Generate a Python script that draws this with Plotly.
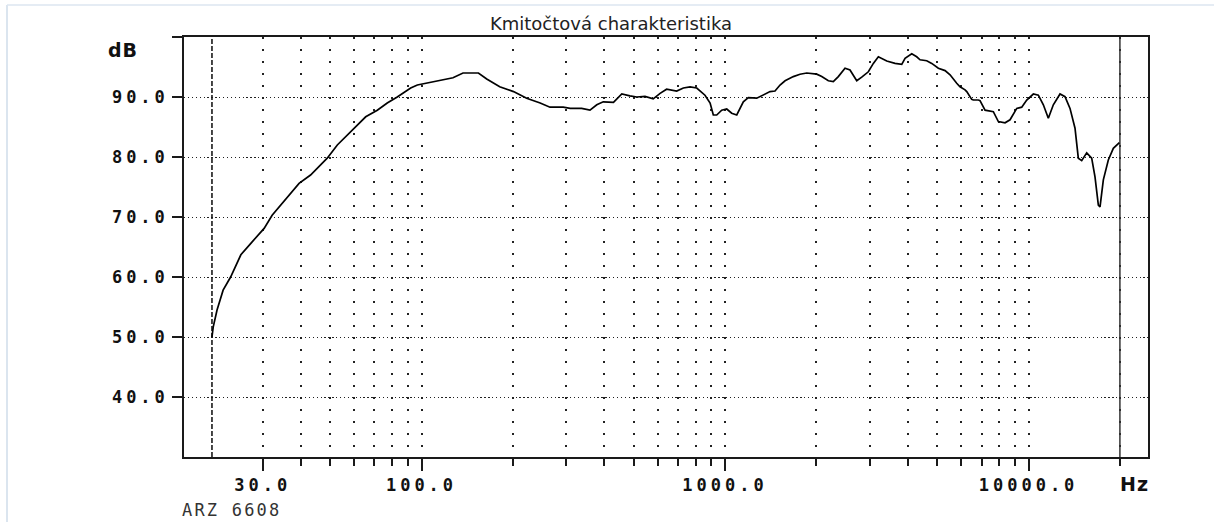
import math
import plotly.graph_objects as go

# ---- data ----
freq_hz = [20.4, 20.6, 21.2, 22.2, 23.5, 25.4, 27.4, 30.3, 32.2, 35.2, 39.5, 43.1, 48.9, 52.8,
           58.4, 65.5, 71.5, 77.1, 83.2, 92.1, 96.9, 104, 118, 127, 137, 154, 164, 181, 201,
           222, 246, 265, 293, 309, 337, 359, 378, 397, 429, 457, 486, 512, 545, 580, 611,
           642, 693, 729, 767, 807, 859, 893, 915, 939, 975, 1013, 1052, 1093, 1149, 1193,
           1272, 1337, 1407, 1461, 1518, 1577, 1679, 1766, 1859, 2005, 2083, 2190, 2274,
           2362, 2485, 2581, 2716, 2821, 2966, 3081, 3200, 3411, 3632, 3822, 3919, 4123,
           4281, 4390, 4619, 4798, 5045, 5308, 5513, 5799, 5946, 6177, 6257, 6498, 6578,
           6833, 6921, 7189, 7656, 7953, 8368, 8690, 9144, 9497, 9865, 10371, 10772, 11189,
           11620, 12069, 12697, 13188, 13697, 14226, 14588, 14968, 15546, 16145, 16556,
           16982, 17200, 17637, 18316, 19023, 19920]
level_db = [50.0, 51.7, 54.5, 57.8, 60.0, 63.7, 65.6, 68.1, 70.3, 72.6, 75.6, 77.0, 79.8, 82.0,
            84.2, 86.7, 87.8, 89.0, 90.0, 91.5, 92.0, 92.3, 92.8, 93.2, 94.0, 94.0, 93.0, 91.7, 90.9,
            89.8, 89.0, 88.3, 88.3, 88.1, 88.1, 87.8, 88.7, 89.2, 89.1, 90.5, 90.2, 90.0, 90.1, 89.7, 90.6,
            91.3, 91.0, 91.5, 91.7, 91.5, 90.3, 89.0, 87.0, 87.0, 87.8, 88.0, 87.3, 87.0, 89.2, 89.9,
            89.8, 90.3, 90.9, 91.0, 92.0, 92.7, 93.4, 93.8, 94.0, 93.8, 93.4, 92.7, 92.55,
            93.4, 94.8, 94.5, 92.7, 93.3, 94.2, 95.6, 96.7, 96.0, 95.6, 95.45, 96.45, 97.2,
            96.7, 96.2, 96.05, 95.6, 94.8, 94.4, 93.7, 92.3, 91.7, 91.2, 90.9, 89.6, 89.5,
            89.5, 89.4, 87.8, 87.55, 85.9, 85.7, 86.2, 88.1, 88.3, 89.5, 90.5, 90.3, 88.7,
            86.45, 88.7, 90.5, 90.05, 88.1, 84.8, 79.8, 79.4, 80.7, 79.8, 76.7,
            72.0, 71.7, 76.2, 79.5, 81.45, 82.4]

limit_low_hz = 20.4
limit_high_hz = 20000
x_range_hz = [16.5, 24750]
y_range_db = [30, 100]

x_major_vals = [30, 100, 1000, 10000]
x_major_labels = ["30.0", "100.0", "1000.0", "10000.0"]
x_minor_vals = [40, 50, 60, 70, 80, 90, 200, 300, 400, 500, 600, 700, 800, 900,
                2000, 3000, 4000, 5000, 6000, 7000, 8000, 9000, 20000]
y_tick_vals = [40, 50, 60, 70, 80, 90, 100]
y_tick_labels = ["40.0", "50.0", "60.0", "70.0", "80.0", "90.0", ""]

title_text = "Kmitočtová charakteristika"
y_unit = "dB"
x_unit = "Hz"
footer_text = "ARZ 6608"


def spaced(t, px):
    return f'<span style="letter-spacing:{px}px">{t}</span>' if t else t


W, H = 1214, 522
L, R, T, B = 184, 66, 37, 65
pw, ph = W - L - R, H - T - B


def px_x(p):
    return (p - L) / pw


def px_y(p):
    return (H - B - p) / ph


tick_font = dict(family="DejaVu Sans Mono", size=17, color="#111", weight="bold")
ink = "#1a1a1a"

fig = go.Figure()
fig.add_trace(go.Scatter(x=[limit_low_hz, limit_low_hz], y=y_range_db, mode="lines",
                         line=dict(color=ink, width=1.6, dash="5px,2px"), hoverinfo="skip"))
fig.add_trace(go.Scatter(x=[limit_high_hz, limit_high_hz], y=y_range_db, mode="lines",
                         line=dict(color="#333", width=1.5), hoverinfo="skip"))
fig.add_trace(go.Scatter(x=freq_hz, y=level_db, mode="lines",
                         line=dict(color="#000", width=1.7)))

fig.update_layout(
    width=W, height=H,
    margin=dict(l=L, r=R, t=T, b=B),
    paper_bgcolor="white", plot_bgcolor="white",
    showlegend=False,
    title=dict(text=title_text, x=611 / W, xanchor="center", y=1 - 24 / H, yanchor="middle",
               font=dict(family="DejaVu Sans", size=18, color="#222")),
    xaxis=dict(
        type="log", range=[math.log10(x_range_hz[0]), math.log10(x_range_hz[1])],
        showline=True, linecolor=ink, linewidth=1.5, mirror=True,
        tickmode="array", tickvals=x_major_vals,
        ticktext=[spaced(t, 4) for t in x_major_labels],
        ticks="outside", ticklen=12, tickwidth=1.5, tickcolor=ink,
        tickfont=tick_font,
        showgrid=True, gridcolor="#222", gridwidth=1.5, griddash="1.5px,10.5px",
        minor=dict(tickmode="array", tickvals=x_minor_vals, ticks="outside", ticklen=7,
                   tickwidth=1.5, tickcolor=ink, showgrid=True, gridcolor="#222",
                   gridwidth=1.5, griddash="1.5px,10.5px"),
        zeroline=False,
    ),
    yaxis=dict(
        range=y_range_db,
        showline=True, linecolor=ink, linewidth=1.5, mirror=True,
        tickmode="array", tickvals=y_tick_vals,
        ticktext=[spaced(t, 4) for t in y_tick_labels],
        ticks="outside", ticklen=10, tickwidth=1.5, tickcolor=ink,
        tickfont=tick_font,
        showgrid=True, gridcolor="#222", gridwidth=1.2, griddash="1.3px,2.6px",
        zeroline=False,
    ),
    annotations=[
        dict(text=spaced(y_unit, 1), xref="paper", yref="paper", x=px_x(106), y=px_y(50),
             xanchor="left", yanchor="middle", showarrow=False,
             font=dict(family="DejaVu Sans", size=19, color="#111", weight="bold")),
        dict(text=spaced(x_unit, 1), xref="paper", yref="paper", x=px_x(1134), y=px_y(484),
             xanchor="center", yanchor="middle", showarrow=False,
             font=dict(family="DejaVu Sans", size=19, color="#111", weight="bold")),
        dict(text=spaced(footer_text, 2.2), xref="paper", yref="paper", x=px_x(180), y=px_y(510),
             xanchor="left", yanchor="middle", showarrow=False,
             font=dict(family="DejaVu Sans Mono", size=17, color="#333")),
    ],
    shapes=[
        dict(type="line", xref="paper", yref="paper", x0=px_x(7), x1=px_x(7),
             y0=px_y(5), y1=px_y(H), line=dict(color="#cfdcea", width=1.5)),
        dict(type="line", xref="paper", yref="paper", x0=px_x(7), x1=px_x(W),
             y0=px_y(5), y1=px_y(5), line=dict(color="#dde6f0", width=1.5)),
    ],
)

fig.write_html("out.html", config={"displayModeBar": False},
               post_script="document.body.style.margin='0';document.body.style.overflow='hidden';")
